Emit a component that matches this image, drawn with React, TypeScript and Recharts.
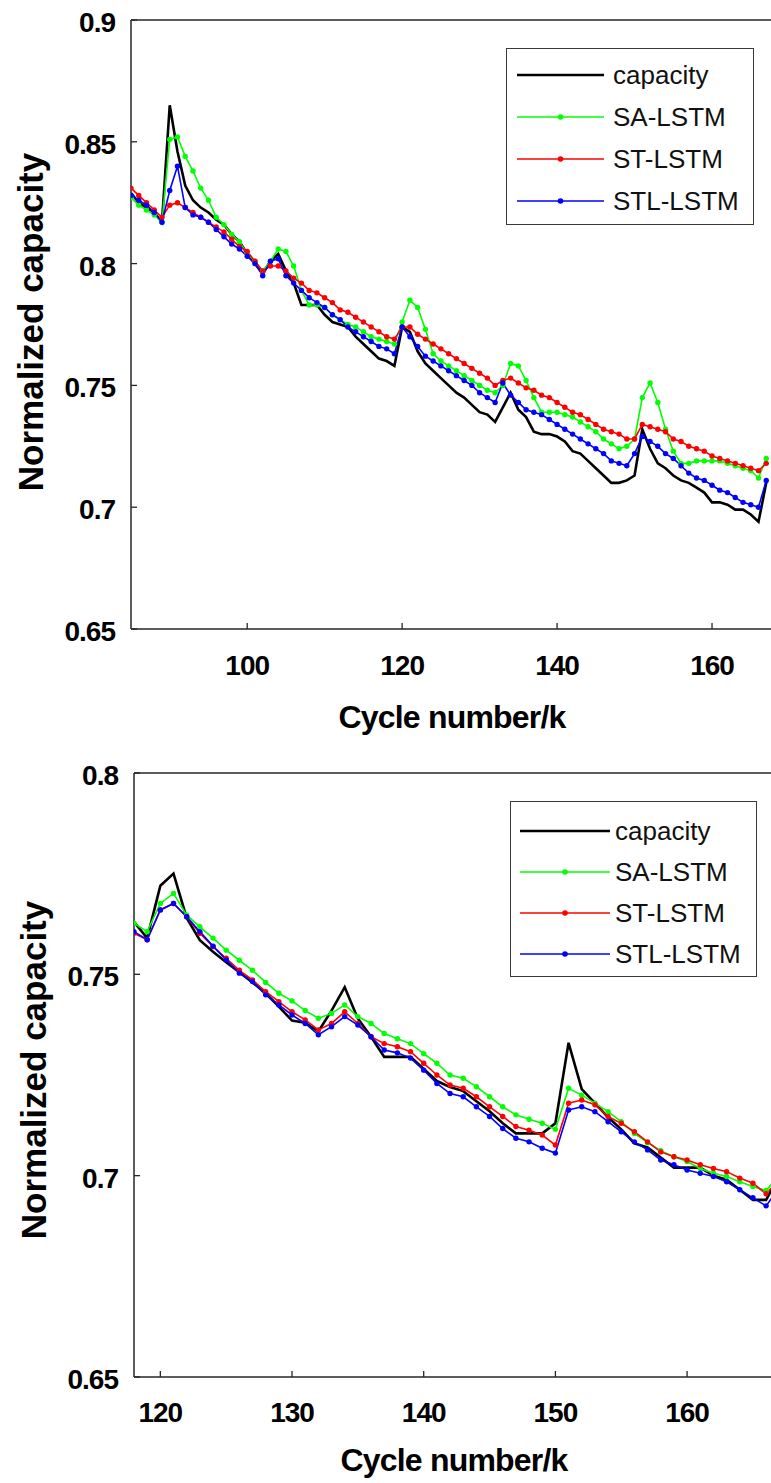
import React from 'react'
import { LineChart, Line, XAxis, YAxis, Legend } from 'recharts'

const FONT = '"Liberation Sans", Arial, Helvetica, sans-serif'

// ---- top panel: cycles 85..167 ----
const topCycles = [
  85, 86, 87, 88, 89, 90, 91, 92, 93, 94,
  95, 96, 97, 98, 99, 100, 101, 102, 103, 104,
  105, 106, 107, 108, 109, 110, 111, 112, 113, 114,
  115, 116, 117, 118, 119, 120, 121, 122, 123, 124,
  125, 126, 127, 128, 129, 130, 131, 132, 133, 134,
  135, 136, 137, 138, 139, 140, 141, 142, 143, 144,
  145, 146, 147, 148, 149, 150, 151, 152, 153, 154,
  155, 156, 157, 158, 159, 160, 161, 162, 163, 164,
  165, 166, 167,
]
const topCapacity = [
  0.829, 0.825, 0.823, 0.821, 0.817, 0.865, 0.846, 0.832, 0.826, 0.823,
  0.821, 0.818, 0.816, 0.812, 0.809, 0.804, 0.8, 0.796, 0.801, 0.804,
  0.797, 0.792, 0.783, 0.783, 0.783, 0.779, 0.776, 0.775, 0.774, 0.77,
  0.767, 0.764, 0.761, 0.76, 0.758, 0.774, 0.772, 0.764, 0.759, 0.756,
  0.753, 0.75, 0.747, 0.745, 0.742, 0.739, 0.738, 0.735, 0.741, 0.747,
  0.74, 0.737, 0.731, 0.73, 0.73, 0.729, 0.727, 0.723, 0.722, 0.719,
  0.716, 0.713, 0.71, 0.71, 0.711, 0.713, 0.732, 0.724, 0.718, 0.716,
  0.713, 0.711, 0.71, 0.708, 0.706, 0.702, 0.702, 0.701, 0.699, 0.699,
  0.697, 0.694, 0.71,
]
const topSA = [
  0.827, 0.824, 0.822, 0.82, 0.817, 0.851, 0.852, 0.844, 0.838, 0.831,
  0.826, 0.819, 0.816, 0.812, 0.809, 0.804, 0.801, 0.797, 0.801, 0.806,
  0.805, 0.799, 0.789, 0.783, 0.783, 0.782, 0.779, 0.777, 0.775, 0.774,
  0.772, 0.77, 0.769, 0.768, 0.767, 0.776, 0.785, 0.782, 0.773, 0.763,
  0.76, 0.758, 0.756, 0.754, 0.752, 0.75, 0.748, 0.747, 0.75, 0.759,
  0.758, 0.752, 0.745, 0.739, 0.739, 0.739, 0.738, 0.737, 0.735, 0.733,
  0.731, 0.728, 0.726, 0.724, 0.725, 0.728, 0.745, 0.751, 0.743, 0.732,
  0.723, 0.718, 0.718, 0.719, 0.719, 0.719, 0.719, 0.718, 0.717, 0.716,
  0.715, 0.712, 0.72,
]
const topST = [
  0.831, 0.828, 0.825, 0.822, 0.819, 0.824, 0.825, 0.823, 0.821, 0.819,
  0.817, 0.815, 0.813, 0.81, 0.807, 0.805, 0.801, 0.797, 0.799, 0.799,
  0.797, 0.794, 0.792, 0.789, 0.788, 0.786, 0.784, 0.781, 0.78, 0.778,
  0.776, 0.774, 0.772, 0.77, 0.769, 0.774, 0.774, 0.771, 0.769, 0.767,
  0.765, 0.763, 0.761, 0.759, 0.757, 0.755, 0.753, 0.75, 0.752, 0.753,
  0.751, 0.749, 0.748, 0.746, 0.745, 0.743, 0.741, 0.739, 0.738, 0.736,
  0.734, 0.732, 0.731, 0.73, 0.728, 0.728, 0.734, 0.733, 0.732, 0.731,
  0.728, 0.727, 0.725, 0.724, 0.723, 0.721, 0.72, 0.719, 0.718, 0.717,
  0.716, 0.715, 0.718,
]
const topSTL = [
  0.828, 0.826, 0.824, 0.821, 0.817, 0.83, 0.84, 0.823, 0.82, 0.819,
  0.817, 0.814, 0.811, 0.808, 0.806, 0.803, 0.8, 0.795, 0.801, 0.802,
  0.795, 0.792, 0.789, 0.786, 0.784, 0.782, 0.779, 0.777, 0.774, 0.772,
  0.77, 0.768, 0.766, 0.765, 0.763, 0.774, 0.77, 0.766, 0.762, 0.76,
  0.758, 0.756, 0.754, 0.752, 0.75, 0.747, 0.745, 0.743, 0.751, 0.746,
  0.743, 0.74, 0.739, 0.738, 0.736, 0.734, 0.732, 0.73, 0.728, 0.726,
  0.724, 0.722, 0.719, 0.718, 0.717, 0.722, 0.729, 0.727, 0.725, 0.722,
  0.72, 0.717, 0.714, 0.712, 0.711, 0.709, 0.707, 0.706, 0.704, 0.702,
  0.701, 0.7, 0.711,
]

// ---- bottom panel: cycles 118..167 ----
const bottomCycles = [
  118, 119, 120, 121, 122, 123, 124, 125, 126, 127,
  128, 129, 130, 131, 132, 133, 134, 135, 136, 137,
  138, 139, 140, 141, 142, 143, 144, 145, 146, 147,
  148, 149, 150, 151, 152, 153, 154, 155, 156, 157,
  158, 159, 160, 161, 162, 163, 164, 165, 166, 167,
]
const bottomCapacity = [
  0.763, 0.759, 0.772, 0.775, 0.764, 0.7585, 0.7556, 0.753, 0.7505, 0.748,
  0.7453, 0.742, 0.7385, 0.738, 0.7358, 0.741, 0.7468, 0.739, 0.7345, 0.7295,
  0.7295, 0.7295, 0.7265, 0.7235, 0.722, 0.721, 0.7185, 0.716, 0.713, 0.7105,
  0.7105, 0.7105, 0.713, 0.733, 0.7215, 0.718, 0.7145, 0.7115, 0.708, 0.707,
  0.7045, 0.702, 0.702, 0.702, 0.7, 0.699, 0.6965, 0.694, 0.694, 0.7,
]
const bottomSA = [
  0.7627, 0.7606, 0.7676, 0.7701, 0.7647, 0.7618, 0.759, 0.756, 0.7535, 0.751,
  0.748, 0.7453, 0.7434, 0.741, 0.7391, 0.7403, 0.7424, 0.7395, 0.7378, 0.7353,
  0.734, 0.7328, 0.7303, 0.7279, 0.725, 0.7242, 0.7221, 0.7196, 0.7171, 0.7151,
  0.714, 0.713, 0.7115, 0.7217, 0.72, 0.718, 0.7159, 0.7134, 0.7105, 0.7082,
  0.7062, 0.7047, 0.7035, 0.7018, 0.7006, 0.6998, 0.6985, 0.6973, 0.6963, 0.7,
]
const bottomST = [
  0.7602, 0.7586, 0.766, 0.7676, 0.7643, 0.7602, 0.7569, 0.754, 0.751, 0.7486,
  0.7457, 0.7432, 0.7407, 0.7387, 0.7362, 0.7378, 0.7407, 0.7378, 0.7345, 0.7328,
  0.732, 0.7308, 0.7279, 0.725, 0.7225, 0.7217, 0.7196, 0.7171, 0.7147, 0.7122,
  0.7113, 0.7101, 0.7076, 0.718, 0.7188, 0.7176, 0.7147, 0.713, 0.7109, 0.7084,
  0.7059, 0.7047, 0.7039, 0.7027, 0.7018, 0.701, 0.6994, 0.6981, 0.6955, 0.699,
]
const bottomSTL = [
  0.7606, 0.7586, 0.766, 0.7676, 0.7643, 0.7606, 0.757, 0.7536, 0.7503, 0.7482,
  0.7449, 0.7424, 0.7399, 0.7378, 0.735, 0.737, 0.7395, 0.7374, 0.7345, 0.7312,
  0.7305, 0.7292, 0.7262, 0.7229, 0.7204, 0.7196, 0.7171, 0.7147, 0.7117, 0.7093,
  0.7084, 0.7068, 0.7056, 0.7163, 0.7171, 0.7159, 0.7134, 0.7109, 0.7084, 0.7064,
  0.7039, 0.7027, 0.7014, 0.7006, 0.6998, 0.6985, 0.6965, 0.6945, 0.6925, 0.697,
]

// ticks
const topXTicks = [100, 120, 140, 160]
const topYTicks = [0.65, 0.7, 0.75, 0.8, 0.85, 0.9]
const bottomXTicks = [120, 130, 140, 150, 160]
const bottomYTicks = [0.65, 0.7, 0.75, 0.8]

const SERIES = [
  { key: 'capacity', name: 'capacity', color: '#000000', width: 2.6, dot: false },
  { key: 'sa', name: 'SA-LSTM', color: '#00ff00', width: 1.6, dot: true },
  { key: 'st', name: 'ST-LSTM', color: '#ff0000', width: 1.6, dot: true },
  { key: 'stl', name: 'STL-LSTM', color: '#0000ff', width: 1.6, dot: true },
]

const buildRows = (cycles: number[], cap: number[], sa: number[], st: number[], stl: number[]) =>
  cycles.map((c, i) => ({ cycle: c, capacity: cap[i], sa: sa[i], st: st[i], stl: stl[i] }))

const topData = buildRows(topCycles, topCapacity, topSA, topST, topSTL)
const bottomData = buildRows(bottomCycles, bottomCapacity, bottomSA, bottomST, bottomSTL)

const AXIS = { stroke: '#262626', strokeWidth: 1.5 }
const TICKLINE = { stroke: '#262626', strokeWidth: 1.3 }

const XTick = ({ x, y, payload }: any) => (
  <text x={x} y={y} dy={20} textAnchor="middle" fontFamily={FONT} fontWeight="bold" fontSize={28} letterSpacing={-1} fill="#000">
    {payload.value}
  </text>
)

const YTick = ({ x, y, payload }: any) => (
  <text x={x} y={y} dy={12} textAnchor="end" fontFamily={FONT} fontWeight="bold" fontSize={28} letterSpacing={-1} fill="#000">
    {payload.value}
  </text>
)

type LegendBox = {
  left: number
  top: number
  width: number
  height: number
  firstRow: number
  rowGap: number
  lineStart: number
  lineEnd: number
  textLeft: number
}

function MatlabLegend({ box }: { box: LegendBox }) {
  return (
    <div
      style={{
        position: 'relative',
        boxSizing: 'border-box',
        width: box.width,
        height: box.height,
        border: '1.5px solid #3a3a3a',
        background: '#fff',
        fontFamily: FONT,
      }}
    >
      {SERIES.map((s, i) => {
        const cy = box.firstRow + i * box.rowGap
        return (
          <React.Fragment key={s.key}>
            <svg style={{ position: 'absolute', left: 0, top: cy - 6 }} width={box.textLeft} height={12}>
              <line x1={box.lineStart} x2={box.lineEnd} y1={6} y2={6} stroke={s.color} strokeWidth={s.width} />
              {s.dot && <circle cx={(box.lineStart + box.lineEnd) / 2} cy={6} r={2.8} fill={s.color} />}
            </svg>
            <span
              style={{
                position: 'absolute',
                left: box.textLeft,
                top: cy,
                transform: 'translateY(-50%)',
                fontSize: 26,
                lineHeight: '30px',
                color: '#111',
                whiteSpace: 'nowrap',
              }}
            >
              {s.name}
            </span>
          </React.Fragment>
        )
      })}
    </div>
  )
}

type PanelCfg = {
  top: number
  width: number
  height: number
  marginTop: number
  leftW: number
  rightW: number
  bottomH: number
  xTickMargin: number
  xDomain: [number, number]
  yDomain: [number, number]
  xTicks: number[]
  yTicks: number[]
  legend: LegendBox
  yTitleX: number
  yTitleY: number
  xTitleX: number
  xTitleBaseline: number
}

function Panel({ data, cfg }: { data: any[]; cfg: PanelCfg }) {
  return (
    <div style={{ position: 'absolute', left: 0, top: cfg.top, width: cfg.width, height: cfg.height }}>
      <LineChart width={cfg.width} height={cfg.height} data={data} margin={{ top: cfg.marginTop, right: 0, bottom: 0, left: 0 }}>
        <XAxis
          dataKey="cycle"
          type="number"
          domain={cfg.xDomain}
          ticks={cfg.xTicks}
          interval={0}
          allowDataOverflow
          height={cfg.bottomH}
          tickSize={-6}
          tickMargin={cfg.xTickMargin}
          tick={(p: any) => <XTick {...p} />}
          axisLine={AXIS}
          tickLine={TICKLINE}
        />
        <XAxis
          xAxisId="top"
          orientation="top"
          dataKey="cycle"
          type="number"
          domain={cfg.xDomain}
          ticks={cfg.xTicks}
          interval={0}
          allowDataOverflow
          height={1}
          tickSize={-6}
          tick={false}
          axisLine={AXIS}
          tickLine={TICKLINE}
        />
        <YAxis
          type="number"
          domain={cfg.yDomain}
          ticks={cfg.yTicks}
          interval={0}
          allowDataOverflow
          width={cfg.leftW}
          tickSize={-6}
          tickMargin={22}
          tick={(p: any) => <YTick {...p} />}
          axisLine={AXIS}
          tickLine={TICKLINE}
        />
        <YAxis
          yAxisId="right"
          orientation="right"
          type="number"
          domain={cfg.yDomain}
          ticks={cfg.yTicks}
          interval={0}
          allowDataOverflow
          width={cfg.rightW}
          tickSize={-6}
          tick={false}
          axisLine={AXIS}
          tickLine={TICKLINE}
        />
        <Legend
          layout="vertical"
          align="center"
          verticalAlign="middle"
          wrapperStyle={{ left: cfg.legend.left, top: cfg.legend.top, width: cfg.legend.width, height: cfg.legend.height }}
          content={() => <MatlabLegend box={cfg.legend} />}
        />
        {SERIES.map((s) => (
          <Line
            key={s.key}
            type="linear"
            dataKey={s.key}
            name={s.name}
            stroke={s.color}
            strokeWidth={s.width}
            dot={s.dot ? { r: 2.7, fill: s.color, stroke: 'none' } : false}
            activeDot={false}
            isAnimationActive={false}
          />
        ))}
      </LineChart>
      <svg
        width={cfg.width}
        height={cfg.height}
        style={{ position: 'absolute', left: 0, top: 0, pointerEvents: 'none' }}
      >
        <text
          x={cfg.yTitleX}
          y={cfg.yTitleY}
          transform={`rotate(-90 ${cfg.yTitleX} ${cfg.yTitleY})`}
          dy="0.36em"
          textAnchor="middle"
          fontFamily={FONT}
          fontWeight="bold"
          fontSize={35}
          fill="#000"
        >
          Normalized capacity
        </text>
        <text
          x={cfg.xTitleX}
          y={cfg.xTitleBaseline}
          textAnchor="middle"
          fontFamily={FONT}
          fontWeight="bold"
          fontSize={32}
          letterSpacing={-0.8}
          fill="#000"
        >
          Cycle number/k
        </text>
      </svg>
    </div>
  )
}

const topCfg: PanelCfg = {
  top: 0,
  width: 776,
  height: 750,
  marginTop: 19,
  leftW: 131,
  rightW: 2,
  bottomH: 121,
  xTickMargin: 32,
  xDomain: [85, 168],
  yDomain: [0.65, 0.9],
  xTicks: topXTicks,
  yTicks: topYTicks,
  legend: { left: 506, top: 48, width: 248, height: 177, firstRow: 26, rowGap: 42, lineStart: 10, lineEnd: 97, textLeft: 106 },
  yTitleX: 30,
  yTitleY: 322,
  xTitleX: 452,
  xTitleBaseline: 728,
}

const bottomCfg: PanelCfg = {
  top: 750,
  width: 776,
  height: 733,
  marginTop: 22,
  leftW: 134,
  rightW: 2,
  bottomH: 106,
  xTickMargin: 31,
  xDomain: [118, 166.6],
  yDomain: [0.65, 0.8],
  xTicks: bottomXTicks,
  yTicks: bottomYTicks,
  legend: { left: 510, top: 51, width: 247, height: 176, firstRow: 29, rowGap: 41, lineStart: 9, lineEnd: 99, textLeft: 104 },
  yTitleX: 33,
  yTitleY: 320,
  xTitleX: 454,
  xTitleBaseline: 721,
}

export default function App() {
  return (
    <div
      style={{
        position: 'absolute',
        left: 0,
        top: 0,
        width: 771,
        height: 1483,
        overflow: 'hidden',
        background: '#fff',
      }}
    >
      <Panel data={topData} cfg={topCfg} />
      <Panel data={bottomData} cfg={bottomCfg} />
    </div>
  )
}
